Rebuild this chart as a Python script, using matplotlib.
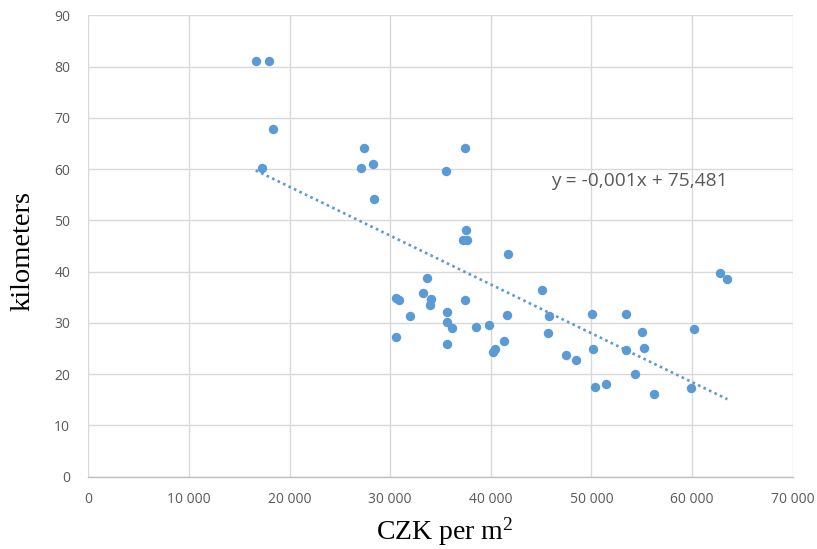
import numpy as np
import matplotlib
matplotlib.use("Agg")
import matplotlib.pyplot as plt
from matplotlib.ticker import FuncFormatter

plt.rcParams["mathtext.fontset"] = "custom"
plt.rcParams["mathtext.rm"] = "Liberation Serif"
plt.rcParams["mathtext.it"] = "Liberation Serif:italic"

# CZK per m2 (x) and kilometers (y)
price = [16640, 17990, 18390, 17300, 27375, 27110, 28330, 28430, 37475, 35560,
         37575, 37250, 37600,
         41750, 33700, 30600, 30900, 33300, 34065, 33965, 31950, 35690, 37475,
         35690, 36125, 38540, 39860, 41590, 45100, 45800, 45670, 30590, 35690,
         41350, 40200, 40460, 47520,
         48480, 50100, 50200, 50370, 51430, 53450, 53450, 55070, 55210, 54370,
         56260, 59910, 60180, 62820, 63520]
km = [81.15, 81.15, 67.8, 60.2, 64.2, 60.2, 61.0, 54.2, 64.2, 59.7,
      48.2, 46.1, 46.1,
      43.5, 38.7, 34.9, 34.5, 35.9, 34.6, 33.5, 31.4, 32.2, 34.5,
      30.1, 29.0, 29.1, 29.6, 31.6, 36.4, 31.4, 28.0, 27.2, 25.9,
      26.4, 24.3, 24.9, 23.8,
      22.7, 31.7, 24.9, 17.5, 18.1, 31.7, 24.6, 28.3, 25.1, 20.1,
      16.2, 17.3, 28.8, 39.8, 38.5]
x_ticks = [0, 10000, 20000, 30000, 40000, 50000, 60000, 70000]
y_ticks = [0, 10, 20, 30, 40, 50, 60, 70, 80, 90]
equation = "y = -0,001x + 75,481"

blue = "#5b9bd5"
grid_c = "#d9d9d9"
tick_c = "#595959"

fig = plt.figure(figsize=(8.17, 5.49), dpi=100)
ax = fig.add_axes([0.1081, 0.132, 0.862, 0.840])

x = np.array(price, dtype=float)
y = np.array(km, dtype=float)
ax.scatter(x, y, s=46, color=blue, zorder=3, linewidths=0)

slope, intercept = np.polyfit(x, y, 1)
xs = np.array([x.min(), x.max()])
ax.plot(xs, slope * xs + intercept, color=blue, lw=1.9,
        linestyle=(0, (1, 1.3)), zorder=2)

ax.text(0.782, 0.641, equation, transform=ax.transAxes, ha="center", va="center",
        fontsize=13.8, color=tick_c, family="Open Sans")

ax.set_xlim(0, 70000)
ax.set_ylim(0, 90)
ax.set_xticks(x_ticks)
ax.set_yticks(y_ticks)
ax.xaxis.set_major_formatter(FuncFormatter(lambda v, p: "0" if v == 0 else f"{int(v):,}".replace(",", " ")))
ax.grid(True, color=grid_c, lw=1)
ax.set_axisbelow(True)
for s in ["top", "right", "left"]:
    ax.spines[s].set_visible(False)
ax.spines["bottom"].set_color("#bfbfbf")
ax.spines["bottom"].set_linewidth(1)
ax.tick_params(length=0, colors=tick_c, labelsize=10)
ax.tick_params(axis="x", pad=11)
ax.tick_params(axis="y", pad=13)
for lab in ax.get_xticklabels() + ax.get_yticklabels():
    lab.set_family("Open Sans")

ax.set_xlabel(r"CZK per m$^{\mathrm{2}}$", fontsize=20, family="Liberation Serif")
ax.set_ylabel("kilometers", fontsize=20.5, family="Liberation Serif")
ax.xaxis.set_label_coords(0.5065, -0.085)
ax.yaxis.set_label_coords(-0.093, 0.4895)
ax.yaxis.label.set_va("center")
ax.xaxis.label.set_va("top")

fig.savefig("out.png", dpi=100)
